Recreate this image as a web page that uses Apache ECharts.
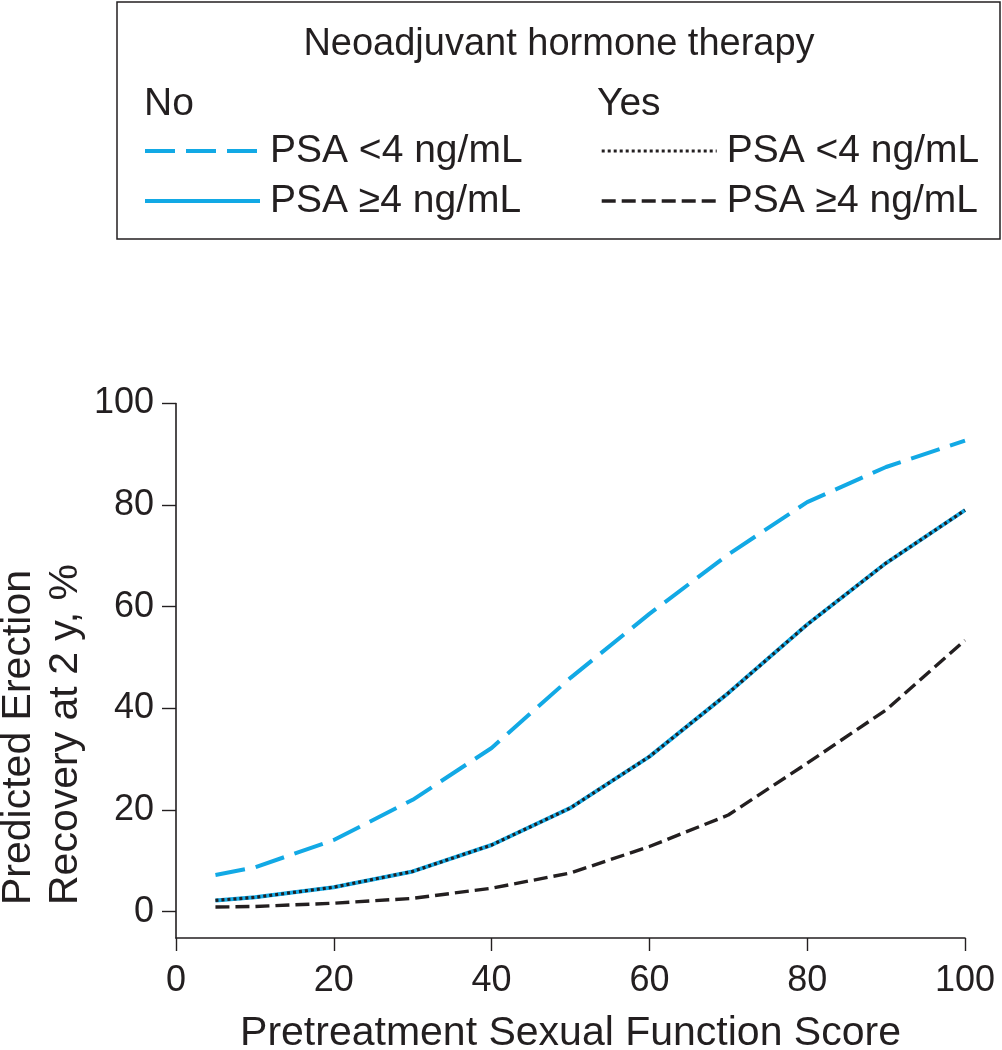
<!DOCTYPE html>
<html>
<head>
<meta charset="utf-8">
<script src="https://cdn.jsdelivr.net/npm/echarts@6/dist/echarts.min.js"></script>
<style>
  html, body { margin: 0; padding: 0; background: #fff; }
  #chart { width: 1002px; height: 1050px; }
</style>
</head>
<body>
<div id="chart"></div>
<script>
// ---- data ----
const scores = [5, 10, 20, 30, 40, 50, 60, 70, 80, 90, 100];
const noPsaLow  = [7.2, 8.7, 14.1, 22.0, 32.2, 46.0, 58.6, 70.3, 80.6, 87.5, 92.7];
const noPsaHigh = [2.2, 2.8, 4.8, 7.9, 13.1, 20.4, 30.5, 43.0, 56.5, 68.6, 79.0];
const yesPsaLow = [2.2, 2.8, 4.8, 7.9, 13.1, 20.4, 30.5, 43.0, 56.5, 68.6, 79.0];
const yesPsaHigh = [0.9, 1.0, 1.65, 2.6, 4.6, 7.6, 12.8, 19.0, 29.2, 39.7, 53.4];
const yTicks = [0, 20, 40, 60, 80, 100];
const legendTitle = 'Neoadjuvant hormone therapy';
const groupNo = 'No';
const groupYes = 'Yes';
const labelLow = 'PSA <4 ng/mL';
const labelHigh = 'PSA \u22654 ng/mL';
const xTitle = 'Pretreatment Sexual Function Score';
const yTitle1 = 'Predicted Erection';
const yTitle2 = 'Recovery at 2 y, %';

// ---- chart ----
const FONT = '"Liberation Sans", Arial, Helvetica, sans-serif';
const INK = '#231f20';
const BLUE = '#12a9e5';

function pairs(ys) { return scores.map((x, i) => [x, ys[i]]); }

const chart = echarts.init(document.getElementById('chart'), null, { renderer: 'canvas' });

const nameNoLow = groupNo + '|' + labelLow;
const nameNoHigh = groupNo + '|' + labelHigh;
const nameYesLow = groupYes + '|' + labelLow;
const nameYesHigh = groupYes + '|' + labelHigh;

const legendCommon = {
  orient: 'vertical',
  top: 131,
  padding: 0,
  itemWidth: 115,
  itemHeight: 14,
  itemGap: 10,
  selectedMode: false,
  formatter: n => n.split('|')[1],
  itemStyle: { opacity: 0 },
  lineStyle: { width: 'inherit' },
  textStyle: { fontFamily: FONT, fontSize: 39, color: INK, lineHeight: 40, padding: [0, 0, 0, 5] }
};

chart.setOption({
  animation: false,
  backgroundColor: '#fff',
  grid: { left: 176, right: 37, top: 403.5, bottom: 112, containLabel: false, outerBoundsMode: 'none' },
  legend: [
    Object.assign({ left: 143, data: [nameNoLow, nameNoHigh] }, legendCommon),
    Object.assign({ left: 600, data: [nameYesLow, nameYesHigh] }, legendCommon)
  ],
  xAxis: {
    type: 'value', min: 0, max: 100, interval: 20,
    name: xTitle, nameLocation: 'middle', nameGap: 75,
    nameTextStyle: { fontFamily: FONT, fontSize: 41, color: INK },
    axisLine: { show: true, onZero: false, lineStyle: { color: INK, width: 1.6 } },
    axisTick: { show: true, inside: false, length: 13, lineStyle: { color: INK, width: 1.4 } },
    axisLabel: { margin: 25, fontFamily: FONT, fontSize: 36, color: INK },
    splitLine: { show: false }
  },
  yAxis: {
    type: 'value', min: -5.2, max: 100,
    axisLine: { show: true, lineStyle: { color: INK, width: 1.6 } },
    axisTick: { show: true, inside: false, length: 14, customValues: yTicks, lineStyle: { color: INK, width: 1.4 } },
    axisLabel: { margin: 22, fontFamily: FONT, fontSize: 36, color: INK, customValues: yTicks },
    splitLine: { show: false }
  },
  graphic: [
    { type: 'rect', shape: { x: 117, y: 2, width: 883, height: 237 },
      style: { fill: 'none', stroke: INK, lineWidth: 1.5 } },
    { type: 'text', x: 559, y: 45,
      style: { text: legendTitle, fontFamily: FONT, fontSize: 38, fill: INK, align: 'center', verticalAlign: 'middle' } },
    { type: 'text', x: 144, y: 104,
      style: { text: groupNo, fontFamily: FONT, fontSize: 39, fill: INK, align: 'left', verticalAlign: 'middle' } },
    { type: 'text', x: 597, y: 104,
      style: { text: groupYes, fontFamily: FONT, fontSize: 39, fill: INK, align: 'left', verticalAlign: 'middle' } },
    { type: 'text', x: 19, y: 905, rotation: Math.PI / 2,
      style: { text: yTitle1, fontFamily: FONT, fontSize: 41, fill: INK, align: 'left', verticalAlign: 'middle' } },
    { type: 'text', x: 66, y: 905, rotation: Math.PI / 2,
      style: { text: yTitle2, fontFamily: FONT, fontSize: 41, fill: INK, align: 'left', verticalAlign: 'middle' } }
  ],
  series: [
    { name: nameNoLow, type: 'line', symbol: 'none', data: pairs(noPsaLow),
      color: BLUE, lineStyle: { color: BLUE, width: 4, type: [30, 11], cap: 'butt' } },
    { name: nameNoHigh, type: 'line', symbol: 'none', data: pairs(noPsaHigh),
      color: BLUE, lineStyle: { color: BLUE, width: 4, type: 'solid' } },
    { name: nameYesLow, type: 'line', symbol: 'none', data: pairs(yesPsaLow),
      color: INK, lineStyle: { color: INK, width: 3.2, type: [3, 3], cap: 'butt' } },
    { name: nameYesHigh, type: 'line', symbol: 'none', data: pairs(yesPsaHigh),
      color: INK, lineStyle: { color: INK, width: 3.4, type: [14, 6], cap: 'butt' } }
  ]
});
</script>
</body>
</html>
